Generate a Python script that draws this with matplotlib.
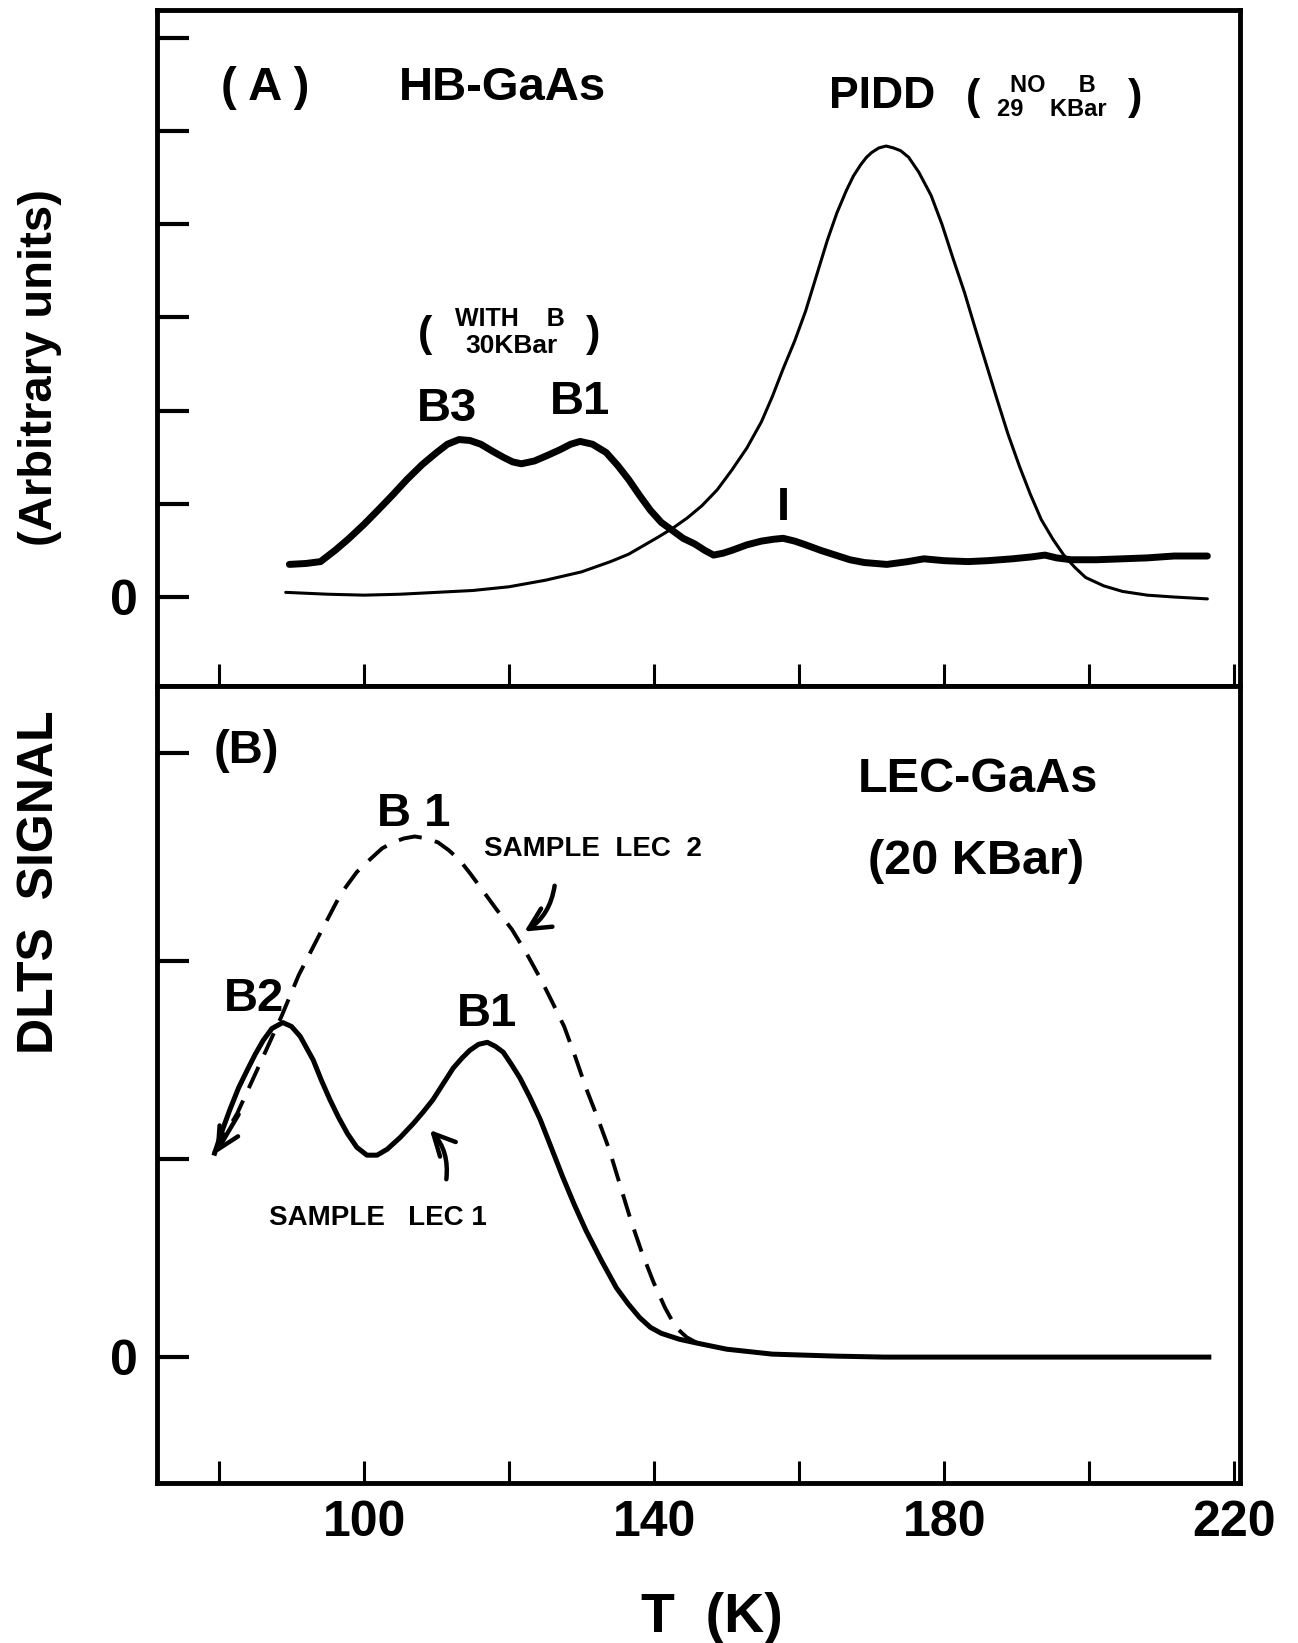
import matplotlib
matplotlib.use("Agg")
import matplotlib.pyplot as plt
from matplotlib.patches import FancyArrowPatch

W, H = 1298, 1643

# Panel A (HB-GaAs): PIDD peak (no B, 29 kbar) and the B3/B1 sample (with B, 30 kbar)
T_pidd = [89.2, 95, 100, 105, 110, 115, 120, 125, 130, 134, 136.5, 138.5, 140.5,
          142.6, 144.6, 146.6, 148.7, 150.7, 152.8, 154.8, 156.3, 157.8, 159.4,
          160.9, 162.4, 163.9, 165.2, 166.5, 167.5, 168.5, 169.3, 170, 171, 172,
          173, 174, 175.1, 176.5, 178.2, 179.7, 181.2, 182.8, 184.3, 185.8, 187.3,
          188.8, 190.4, 191.9, 193.4, 195, 196.5, 198, 199.5, 202, 204.6, 208,
          211.7, 216.3]
s_pidd = [0.05, 0.03, 0.02, 0.03, 0.05, 0.07, 0.11, 0.18, 0.27, 0.38, 0.46, 0.55, 0.64,
          0.74, 0.85, 0.98, 1.15, 1.36, 1.60, 1.88, 2.15, 2.45, 2.75,
          3.07, 3.45, 3.83, 4.12, 4.36, 4.52, 4.64, 4.72, 4.77, 4.82, 4.84,
          4.82, 4.79, 4.72, 4.56, 4.31, 4.00, 3.64, 3.27, 2.88, 2.50, 2.12,
          1.75, 1.40, 1.10, 0.83, 0.62, 0.45, 0.32, 0.21, 0.12, 0.06, 0.02,
          0.0, -0.02]

T_hb = [89.7, 92, 94, 96, 97.8, 100, 101.9, 104, 105.9, 108, 110, 111.5, 113.1,
        114.6, 116.1, 117.6, 119.2, 120.5, 121.7, 123.5, 125.3, 127, 128.5, 129.8,
        131.5, 133.4, 135, 136.5, 138, 139.5, 141, 142.6, 144, 145.6, 147, 148.2,
        149.5, 150.7, 152.8, 154.8, 156.5, 157.8, 159.4, 160.9, 163, 165, 167, 169,
        172.1, 175, 177.2, 180, 183.3, 186, 189.4, 192, 193.9, 195.5, 197.5, 201,
        204.6, 208, 211.7, 216.3]
s_hb = [0.35, 0.36, 0.38, 0.50, 0.62, 0.78, 0.93, 1.10, 1.26, 1.42, 1.55, 1.64, 1.69,
        1.68, 1.64, 1.57, 1.50, 1.45, 1.43, 1.46, 1.52, 1.58, 1.64, 1.67,
        1.64, 1.55, 1.41, 1.26, 1.09, 0.93, 0.80, 0.71, 0.63, 0.57, 0.50, 0.45,
        0.47, 0.50, 0.56, 0.60, 0.62, 0.63, 0.60, 0.56, 0.50, 0.45, 0.40, 0.37,
        0.35, 0.38, 0.41, 0.39, 0.38, 0.39, 0.41, 0.43, 0.45, 0.42, 0.40, 0.40,
        0.41, 0.42, 0.44, 0.44]

# Panel B (LEC-GaAs, 20 kbar)
T_lec1 = [79.4, 80.4, 81.5, 82.7, 83.9, 85, 86.1, 87.3, 88.8, 90, 91.2, 92.1, 93.0,
          94.1, 95.3, 96.5, 97.7, 99, 100.4, 101.8, 103.2, 105, 106.8, 108.2, 109.5,
          110.9, 112.3, 113.5, 114.6, 115.8, 117.0, 118.1, 119.2, 120.3, 121.5,
          122.9, 124.3, 125.8, 127.4, 129, 130.6, 132.7, 134.8, 136.4, 138, 139.5,
          141, 143.5, 146, 150, 156.3, 165, 171.7, 185, 200, 216.5]
s_lec1 = [1.03, 1.14, 1.25, 1.36, 1.45, 1.53, 1.60, 1.66, 1.69, 1.67, 1.62, 1.56, 1.50,
          1.40, 1.30, 1.21, 1.13, 1.06, 1.02, 1.02, 1.05, 1.11, 1.18, 1.24, 1.30,
          1.38, 1.46, 1.51, 1.55, 1.58, 1.59, 1.57, 1.54, 1.48, 1.41,
          1.31, 1.20, 1.06, 0.91, 0.77, 0.64, 0.49, 0.35, 0.27, 0.20, 0.15,
          0.12, 0.09, 0.07, 0.04, 0.015, 0.005, 0.0, 0.0, 0.0, 0.0]

T_lec2 = [79.3, 82.5, 85.5, 88.6, 91, 93.8, 96.8, 99, 101, 102.5, 104, 105.5, 107,
          108.6, 110.2, 111.7, 113.2, 114.7, 116.3, 118.3, 120.4, 122.4, 124.5, 126,
          127.6, 129.1, 130.6, 132.2, 133.8, 135.3, 136.8, 138.3, 139.9, 141.5, 143,
          144.5, 146]
s_lec2 = [1.03, 1.23, 1.47, 1.72, 1.93, 2.13, 2.34, 2.45, 2.52, 2.57, 2.60, 2.62, 2.63,
          2.62, 2.60, 2.56, 2.51, 2.44, 2.36, 2.26, 2.16, 2.04, 1.90, 1.79,
          1.67, 1.52, 1.36, 1.21, 1.05, 0.87, 0.69, 0.53, 0.38, 0.25, 0.15,
          0.10, 0.07]

T_ticks = [80, 100, 120, 140, 160, 180, 200, 220]
T_labels = ['', '100', '', '140', '', '180', '', '220']
yA_ticks = [0, 1, 2, 3, 4, 5, 6]
yB_ticks = [0, 1, 2, 3.05]

plt.rcParams['font.family'] = ['Liberation Sans', 'DejaVu Sans']
plt.rcParams['font.weight'] = 'bold'


def fx(x):
    return x / W


def fy(y):
    return 1 - y / H


fig = plt.figure(figsize=(W / 100, H / 100), dpi=100)
axA = fig.add_axes([fx(157), fy(686), fx(1240) - fx(157), fy(10) - fy(686)])
axB = fig.add_axes([fx(157), fy(1483), fx(1240) - fx(157), fy(686) - fy(1483)])


def style(ax, yticks, xlabels):
    for s in ax.spines.values():
        s.set_linewidth(3.5)
    ax.set_xlim(71.45, 220.8)
    ax.set_xticks(T_ticks)
    ax.set_xticklabels(xlabels)
    ax.set_yticks(yticks)
    ax.set_yticklabels(['0'] + [''] * (len(yticks) - 1))
    ax.tick_params(axis='x', direction='in', length=16, width=2.2, pad=12, labelsize=36)
    ax.tick_params(axis='y', direction='in', length=23, width=3, pad=14, labelsize=36)


style(axA, yA_ticks, [''] * len(T_ticks))
style(axB, yB_ticks, T_labels)
axA.set_ylim(-0.955, 6.3)
axB.set_ylim(-0.636, 3.39)

axA.plot(T_pidd, s_pidd, color='black', lw=2.2, solid_capstyle='round', solid_joinstyle='round')
axA.plot(T_hb, s_hb, color='black', lw=5, solid_capstyle='round', solid_joinstyle='round')
axB.plot(T_lec1, s_lec1, color='black', lw=3.6, solid_joinstyle='round')
axB.plot(T_lec2, s_lec2, color='black', lw=2.8, dashes=(6, 3.5))


def label(x, y, s, size, **kw):
    fig.text(fx(x), fy(y), s, ha='center', va='center', fontsize=size,
             fontweight='bold', **kw)


# axis titles
label(40, 882, 'DLTS  SIGNAL', 36, rotation=90)
label(40, 368, '(Arbitrary units)', 34, rotation=90)
label(712, 1618, 'T  (K)', 40)

# panel A notes
label(265, 88, '( A )', 34)
label(502, 88, 'HB-GaAs', 34)
label(882, 96, 'PIDD', 32)
label(973, 98, '(', 31)
label(1053, 85, 'NO     B', 17)
label(1052, 109, '29    KBar', 17)
label(1135, 98, ')', 31)
label(425, 335, '(', 31)
label(510, 319, 'WITH    B', 18)
label(511, 346, '30KBar', 19)
label(593, 335, ')', 31)
label(447, 409, 'B3', 34)
label(580, 402, 'B1', 34)
label(783, 508, 'I', 34)

# panel B notes
label(246, 751, '(B)', 34)
label(978, 780, 'LEC-GaAs', 35)
label(976, 861, '(20 KBar)', 35)
label(414, 814, 'B 1', 34)
label(593, 849, 'SAMPLE  LEC  2', 20)
label(254, 999, 'B2', 34)
label(487, 1014, 'B1', 34)
label(378, 1218, 'SAMPLE   LEC 1', 20)


def arrow(x0, y0, x1, y1, rad):
    fig.add_artist(FancyArrowPatch(
        (fx(x0), fy(y0)), (fx(x1), fy(y1)), transform=fig.transFigure,
        arrowstyle='->,head_length=0.7,head_width=0.35', mutation_scale=22,
        connectionstyle=f'arc3,rad={rad}', color='black', lw=3.2,
        capstyle='round', joinstyle='round'))


arrow(555, 883, 522, 933, -0.25)
arrow(446, 1182, 428, 1128, 0.25)
arrow(240, 1112, 214, 1156, 0.0)

fig.savefig('out.png', dpi=100)
